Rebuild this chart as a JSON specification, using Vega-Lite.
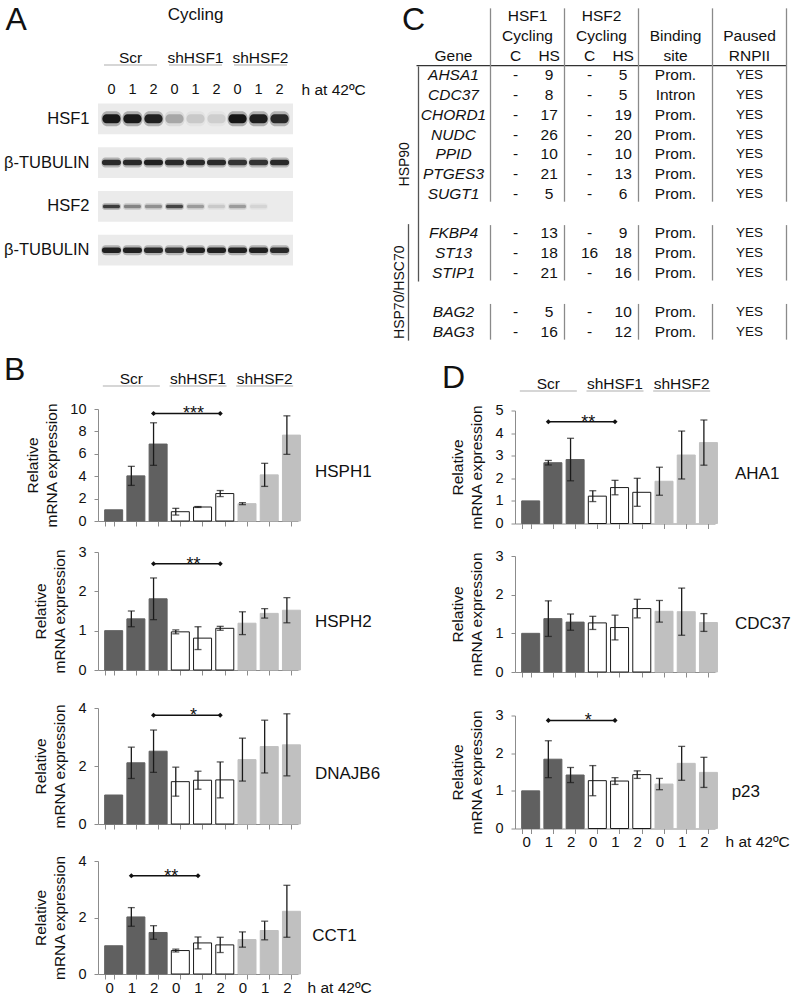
{
  "$schema": "https://vega.github.io/schema/vega-lite/v6.json",
  "background": "white",
  "padding": {"left": 3, "top": 3.5, "right": 2, "bottom": 2},
  "spacing": 12.5,
  "datasets": {
    "groups": [{"cond": "Scr"}, {"cond": "shHSF1"}, {"cond": "shHSF2"}],
    "panelTitle": [{"text": "Cycling"}],
    "blotNames": [{"blot": "HSF1"}, {"blot": "β-TUBULIN a"}, {"blot": "HSF2"}, {"blot": "β-TUBULIN b"}],
    "blot": [
      {"blot": "HSF1", "lane": "Scr 0", "signal": 0.95}, {"blot": "HSF1", "lane": "Scr 1", "signal": 0.95}, {"blot": "HSF1", "lane": "Scr 2", "signal": 0.9},
      {"blot": "HSF1", "lane": "shHSF1 0", "signal": 0.25}, {"blot": "HSF1", "lane": "shHSF1 1", "signal": 0.12}, {"blot": "HSF1", "lane": "shHSF1 2", "signal": 0.1},
      {"blot": "HSF1", "lane": "shHSF2 0", "signal": 0.97}, {"blot": "HSF1", "lane": "shHSF2 1", "signal": 0.92}, {"blot": "HSF1", "lane": "shHSF2 2", "signal": 0.85},
      {"blot": "β-TUBULIN a", "lane": "Scr 0", "signal": 0.85}, {"blot": "β-TUBULIN a", "lane": "Scr 1", "signal": 0.85}, {"blot": "β-TUBULIN a", "lane": "Scr 2", "signal": 0.9},
      {"blot": "β-TUBULIN a", "lane": "shHSF1 0", "signal": 0.85}, {"blot": "β-TUBULIN a", "lane": "shHSF1 1", "signal": 0.85}, {"blot": "β-TUBULIN a", "lane": "shHSF1 2", "signal": 0.85},
      {"blot": "β-TUBULIN a", "lane": "shHSF2 0", "signal": 0.8}, {"blot": "β-TUBULIN a", "lane": "shHSF2 1", "signal": 0.8}, {"blot": "β-TUBULIN a", "lane": "shHSF2 2", "signal": 0.85},
      {"blot": "HSF2", "lane": "Scr 0", "signal": 0.75}, {"blot": "HSF2", "lane": "Scr 1", "signal": 0.4}, {"blot": "HSF2", "lane": "Scr 2", "signal": 0.35},
      {"blot": "HSF2", "lane": "shHSF1 0", "signal": 0.7}, {"blot": "HSF2", "lane": "shHSF1 1", "signal": 0.3}, {"blot": "HSF2", "lane": "shHSF1 2", "signal": 0.12},
      {"blot": "HSF2", "lane": "shHSF2 0", "signal": 0.3}, {"blot": "HSF2", "lane": "shHSF2 1", "signal": 0.08}, {"blot": "HSF2", "lane": "shHSF2 2", "signal": 0.0},
      {"blot": "β-TUBULIN b", "lane": "Scr 0", "signal": 0.9}, {"blot": "β-TUBULIN b", "lane": "Scr 1", "signal": 0.9}, {"blot": "β-TUBULIN b", "lane": "Scr 2", "signal": 0.85},
      {"blot": "β-TUBULIN b", "lane": "shHSF1 0", "signal": 0.8}, {"blot": "β-TUBULIN b", "lane": "shHSF1 1", "signal": 0.9}, {"blot": "β-TUBULIN b", "lane": "shHSF1 2", "signal": 0.9},
      {"blot": "β-TUBULIN b", "lane": "shHSF2 0", "signal": 0.9}, {"blot": "β-TUBULIN b", "lane": "shHSF2 1", "signal": 0.9}, {"blot": "β-TUBULIN b", "lane": "shHSF2 2", "signal": 0.85}
    ],
    "expr": [
      {"panel": "HSPH1", "cond": "Scr", "lane": "Scr 0", "value": 1.0, "err": 0},
      {"panel": "HSPH1", "cond": "Scr", "lane": "Scr 1", "value": 4.03, "err": 0.85},
      {"panel": "HSPH1", "cond": "Scr", "lane": "Scr 2", "value": 6.87, "err": 1.9},
      {"panel": "HSPH1", "cond": "shHSF1", "lane": "shHSF1 0", "value": 0.83, "err": 0.3},
      {"panel": "HSPH1", "cond": "shHSF1", "lane": "shHSF1 1", "value": 1.25, "err": 0.04},
      {"panel": "HSPH1", "cond": "shHSF1", "lane": "shHSF1 2", "value": 2.45, "err": 0.27},
      {"panel": "HSPH1", "cond": "shHSF2", "lane": "shHSF2 0", "value": 1.55, "err": 0.09},
      {"panel": "HSPH1", "cond": "shHSF2", "lane": "shHSF2 1", "value": 4.12, "err": 1.03},
      {"panel": "HSPH1", "cond": "shHSF2", "lane": "shHSF2 2", "value": 7.67, "err": 1.72},
      {"panel": "HSPH2", "cond": "Scr", "lane": "Scr 0", "value": 1.0, "err": 0},
      {"panel": "HSPH2", "cond": "Scr", "lane": "Scr 1", "value": 1.3, "err": 0.2},
      {"panel": "HSPH2", "cond": "Scr", "lane": "Scr 2", "value": 1.81, "err": 0.53},
      {"panel": "HSPH2", "cond": "shHSF1", "lane": "shHSF1 0", "value": 0.97, "err": 0.05},
      {"panel": "HSPH2", "cond": "shHSF1", "lane": "shHSF1 1", "value": 0.81, "err": 0.29},
      {"panel": "HSPH2", "cond": "shHSF1", "lane": "shHSF1 2", "value": 1.06, "err": 0.05},
      {"panel": "HSPH2", "cond": "shHSF2", "lane": "shHSF2 0", "value": 1.19, "err": 0.29},
      {"panel": "HSPH2", "cond": "shHSF2", "lane": "shHSF2 1", "value": 1.44, "err": 0.12},
      {"panel": "HSPH2", "cond": "shHSF2", "lane": "shHSF2 2", "value": 1.52, "err": 0.32},
      {"panel": "DNAJB6", "cond": "Scr", "lane": "Scr 0", "value": 1.0, "err": 0},
      {"panel": "DNAJB6", "cond": "Scr", "lane": "Scr 1", "value": 2.11, "err": 0.54},
      {"panel": "DNAJB6", "cond": "Scr", "lane": "Scr 2", "value": 2.51, "err": 0.73},
      {"panel": "DNAJB6", "cond": "shHSF1", "lane": "shHSF1 0", "value": 1.46, "err": 0.5},
      {"panel": "DNAJB6", "cond": "shHSF1", "lane": "shHSF1 1", "value": 1.51, "err": 0.31},
      {"panel": "DNAJB6", "cond": "shHSF1", "lane": "shHSF1 2", "value": 1.52, "err": 0.62},
      {"panel": "DNAJB6", "cond": "shHSF2", "lane": "shHSF2 0", "value": 2.22, "err": 0.74},
      {"panel": "DNAJB6", "cond": "shHSF2", "lane": "shHSF2 1", "value": 2.67, "err": 0.91},
      {"panel": "DNAJB6", "cond": "shHSF2", "lane": "shHSF2 2", "value": 2.73, "err": 1.07},
      {"panel": "CCT1", "cond": "Scr", "lane": "Scr 0", "value": 1.0, "err": 0},
      {"panel": "CCT1", "cond": "Scr", "lane": "Scr 1", "value": 2.02, "err": 0.33},
      {"panel": "CCT1", "cond": "Scr", "lane": "Scr 2", "value": 1.47, "err": 0.24},
      {"panel": "CCT1", "cond": "shHSF1", "lane": "shHSF1 0", "value": 0.83, "err": 0.05},
      {"panel": "CCT1", "cond": "shHSF1", "lane": "shHSF1 1", "value": 1.1, "err": 0.21},
      {"panel": "CCT1", "cond": "shHSF1", "lane": "shHSF1 2", "value": 1.03, "err": 0.27},
      {"panel": "CCT1", "cond": "shHSF2", "lane": "shHSF2 0", "value": 1.22, "err": 0.27},
      {"panel": "CCT1", "cond": "shHSF2", "lane": "shHSF2 1", "value": 1.54, "err": 0.33},
      {"panel": "CCT1", "cond": "shHSF2", "lane": "shHSF2 2", "value": 2.22, "err": 0.92},
      {"panel": "AHA1", "cond": "Scr", "lane": "Scr 0", "value": 1.0, "err": 0},
      {"panel": "AHA1", "cond": "Scr", "lane": "Scr 1", "value": 2.69, "err": 0.1},
      {"panel": "AHA1", "cond": "Scr", "lane": "Scr 2", "value": 2.83, "err": 0.94},
      {"panel": "AHA1", "cond": "shHSF1", "lane": "shHSF1 0", "value": 1.21, "err": 0.24},
      {"panel": "AHA1", "cond": "shHSF1", "lane": "shHSF1 1", "value": 1.59, "err": 0.32},
      {"panel": "AHA1", "cond": "shHSF1", "lane": "shHSF1 2", "value": 1.38, "err": 0.62},
      {"panel": "AHA1", "cond": "shHSF2", "lane": "shHSF2 0", "value": 1.87, "err": 0.62},
      {"panel": "AHA1", "cond": "shHSF2", "lane": "shHSF2 1", "value": 3.03, "err": 1.06},
      {"panel": "AHA1", "cond": "shHSF2", "lane": "shHSF2 2", "value": 3.58, "err": 1.0},
      {"panel": "CDC37", "cond": "Scr", "lane": "Scr 0", "value": 1.0, "err": 0},
      {"panel": "CDC37", "cond": "Scr", "lane": "Scr 1", "value": 1.38, "err": 0.46},
      {"panel": "CDC37", "cond": "Scr", "lane": "Scr 2", "value": 1.29, "err": 0.21},
      {"panel": "CDC37", "cond": "shHSF1", "lane": "shHSF1 0", "value": 1.27, "err": 0.17},
      {"panel": "CDC37", "cond": "shHSF1", "lane": "shHSF1 1", "value": 1.15, "err": 0.32},
      {"panel": "CDC37", "cond": "shHSF1", "lane": "shHSF1 2", "value": 1.64, "err": 0.24},
      {"panel": "CDC37", "cond": "shHSF2", "lane": "shHSF2 0", "value": 1.57, "err": 0.28},
      {"panel": "CDC37", "cond": "shHSF2", "lane": "shHSF2 1", "value": 1.56, "err": 0.61},
      {"panel": "CDC37", "cond": "shHSF2", "lane": "shHSF2 2", "value": 1.28, "err": 0.23},
      {"panel": "p23", "cond": "Scr", "lane": "Scr 0", "value": 1.0, "err": 0},
      {"panel": "p23", "cond": "Scr", "lane": "Scr 1", "value": 1.84, "err": 0.49},
      {"panel": "p23", "cond": "Scr", "lane": "Scr 2", "value": 1.42, "err": 0.2},
      {"panel": "p23", "cond": "shHSF1", "lane": "shHSF1 0", "value": 1.27, "err": 0.4},
      {"panel": "p23", "cond": "shHSF1", "lane": "shHSF1 1", "value": 1.26, "err": 0.09},
      {"panel": "p23", "cond": "shHSF1", "lane": "shHSF1 2", "value": 1.43, "err": 0.1},
      {"panel": "p23", "cond": "shHSF2", "lane": "shHSF2 0", "value": 1.18, "err": 0.15},
      {"panel": "p23", "cond": "shHSF2", "lane": "shHSF2 1", "value": 1.73, "err": 0.45},
      {"panel": "p23", "cond": "shHSF2", "lane": "shHSF2 2", "value": 1.49, "err": 0.4}
    ],
    "sig": [
      {"panel": "HSPH1", "from": "Scr 2", "to": "shHSF1 2", "mid": "shHSF1 1", "level": 9.6, "stars": "***"},
      {"panel": "HSPH2", "from": "Scr 2", "to": "shHSF1 2", "mid": "shHSF1 1", "level": 2.7, "stars": "**"},
      {"panel": "DNAJB6", "from": "Scr 2", "to": "shHSF1 2", "mid": "shHSF1 1", "level": 3.75, "stars": "*"},
      {"panel": "CCT1", "from": "Scr 1", "to": "shHSF1 1", "mid": "shHSF1 0", "level": 3.48, "stars": "**"},
      {"panel": "AHA1", "from": "Scr 1", "to": "shHSF1 1", "mid": "shHSF1 0", "level": 4.5, "stars": "**"},
      {"panel": "p23", "from": "Scr 1", "to": "shHSF1 1", "mid": "shHSF1 0", "level": 2.87, "stars": "*"}
    ],
    "genes": [
      {"gene": "AHSA1", "hsf1C": "-", "hsf1HS": 9, "hsf2C": "-", "hsf2HS": 5, "site": "Prom.", "paused": "YES"},
      {"gene": "CDC37", "hsf1C": "-", "hsf1HS": 8, "hsf2C": "-", "hsf2HS": 5, "site": "Intron", "paused": "YES"},
      {"gene": "CHORD1", "hsf1C": "-", "hsf1HS": 17, "hsf2C": "-", "hsf2HS": 19, "site": "Prom.", "paused": "YES"},
      {"gene": "NUDC", "hsf1C": "-", "hsf1HS": 26, "hsf2C": "-", "hsf2HS": 20, "site": "Prom.", "paused": "YES"},
      {"gene": "PPID", "hsf1C": "-", "hsf1HS": 10, "hsf2C": "-", "hsf2HS": 10, "site": "Prom.", "paused": "YES"},
      {"gene": "PTGES3", "hsf1C": "-", "hsf1HS": 21, "hsf2C": "-", "hsf2HS": 13, "site": "Prom.", "paused": "YES"},
      {"gene": "SUGT1", "hsf1C": "-", "hsf1HS": 5, "hsf2C": "-", "hsf2HS": 6, "site": "Prom.", "paused": "YES"},
      {"gene": "FKBP4", "hsf1C": "-", "hsf1HS": 13, "hsf2C": "-", "hsf2HS": 9, "site": "Prom.", "paused": "YES"},
      {"gene": "ST13", "hsf1C": "-", "hsf1HS": 18, "hsf2C": 16, "hsf2HS": 18, "site": "Prom.", "paused": "YES"},
      {"gene": "STIP1", "hsf1C": "-", "hsf1HS": 21, "hsf2C": "-", "hsf2HS": 16, "site": "Prom.", "paused": "YES"},
      {"gene": "BAG2", "hsf1C": "-", "hsf1HS": 5, "hsf2C": "-", "hsf2HS": 10, "site": "Prom.", "paused": "YES"},
      {"gene": "BAG3", "hsf1C": "-", "hsf1HS": 16, "hsf2C": "-", "hsf2HS": 12, "site": "Prom.", "paused": "YES"}
    ],
    "countCols": [
      {"key": "hsf1C", "col": "HSF1", "sub": "C"}, {"key": "hsf1HS", "col": "HSF1", "sub": "HS"},
      {"key": "hsf2C", "col": "HSF2", "sub": "C"}, {"key": "hsf2HS", "col": "HSF2", "sub": "HS"}
    ],
    "tableHead": [
      {"row": "h1", "col": "HSF1", "text": "HSF1"}, {"row": "h2", "col": "HSF1", "text": "Cycling"},
      {"row": "h1", "col": "HSF2", "text": "HSF2"}, {"row": "h2", "col": "HSF2", "text": "Cycling"},
      {"row": "h2", "col": "Binding", "text": "Binding"}, {"row": "h3", "col": "Binding", "text": "site"},
      {"row": "h2", "col": "Paused", "text": "Paused"}, {"row": "h3", "col": "Paused", "text": "RNPII"},
      {"row": "h3", "col": "Gene", "text": "Gene"}
    ],
    "tableSub": [
      {"row": "h3", "col": "HSF1", "sub": "C"}, {"row": "h3", "col": "HSF1", "sub": "HS"},
      {"row": "h3", "col": "HSF2", "sub": "C"}, {"row": "h3", "col": "HSF2", "sub": "HS"}
    ],
    "seps": [
      {"col": "HSF1", "side": "start", "first": "h1", "last": "SUGT1"}, {"col": "HSF1", "side": "start", "first": "FKBP4", "last": "STIP1"}, {"col": "HSF1", "side": "start", "first": "BAG2", "last": "BAG3"},
      {"col": "HSF2", "side": "start", "first": "h1", "last": "SUGT1"}, {"col": "HSF2", "side": "start", "first": "FKBP4", "last": "STIP1"}, {"col": "HSF2", "side": "start", "first": "BAG2", "last": "BAG3"},
      {"col": "Binding", "side": "start", "first": "h1", "last": "SUGT1"}, {"col": "Binding", "side": "start", "first": "FKBP4", "last": "STIP1"}, {"col": "Binding", "side": "start", "first": "BAG2", "last": "BAG3"},
      {"col": "Paused", "side": "start", "first": "h1", "last": "SUGT1"}, {"col": "Paused", "side": "start", "first": "FKBP4", "last": "STIP1"}, {"col": "Paused", "side": "start", "first": "BAG2", "last": "BAG3"},
      {"col": "Paused", "side": "end", "first": "h1", "last": "SUGT1"}, {"col": "Paused", "side": "end", "first": "FKBP4", "last": "STIP1"}, {"col": "Paused", "side": "end", "first": "BAG2", "last": "BAG3"}
    ],
    "families": [
      {"family": "HSP90", "first": "AHSA1", "last": "STIP1", "mid": "PPID"},
      {"family": "HSP70/HSC70", "first": "FKBP4", "last": "BAG3", "mid": "gap2"}
    ],
    "headerRule": [{"below": "h3", "above": "AHSA1"}]
  },
  "vconcat": [
    {
      "spacing": 26.5,
      "hconcat": [
        {
          "title": {"text": "A", "orient": "left", "angle": 0, "anchor": "end", "frame": "group", "align": "left", "baseline": "top", "fontSize": 32, "offset": -23.3, "dy": -1.5},
          "spacing": 14,
          "vconcat": [
            {
              "width": 195, "height": 60.5,
              "layer": [
                {"data": {"name": "panelTitle"}, "mark": {"type": "text", "fontSize": 17, "baseline": "middle", "yOffset": -22.25},
                 "encoding": {"text": {"field": "text"}}},
                {"data": {"name": "groups"}, "mark": {"type": "text", "fontSize": 15.5, "baseline": "alphabetic", "yOffset": 28.25, "dy": -2.5},
                 "encoding": {"x": {"field": "cond", "type": "nominal", "scale": {"domain": ["Scr", "shHSF1", "shHSF2"], "paddingInner": 0, "paddingOuter": 0}, "axis": null}, "text": {"field": "cond"}}},
                {"data": {"name": "groups"}, "mark": {"type": "tick", "orient": "horizontal", "size": 53, "thickness": 1.2, "color": "#8c8c8c", "yOffset": 28.25},
                 "encoding": {"x": {"field": "cond", "type": "nominal", "scale": {"domain": ["Scr", "shHSF1", "shHSF2"], "paddingInner": 0, "paddingOuter": 0}, "axis": null}}}
              ]
            },
            {
              "width": 195, "height": 162,
              "layer": [
                {"data": {"name": "blotNames"}, "mark": {"type": "rect", "fill": "#ebebeb"},
                 "encoding": {"y": {"field": "blot", "type": "nominal", "scale": {"domain": ["HSF1", "β-TUBULIN a", "HSF2", "β-TUBULIN b"], "paddingInner": 0.3, "paddingOuter": 0},
                   "axis": {"title": null, "ticks": false, "domain": false, "labelFontSize": 16.5, "labelPadding": 9, "labelExpr": "datum.value == 'HSF1' || datum.value == 'HSF2' ? datum.value : 'β-TUBULIN'"}}}},
                {"data": {"name": "blot"}, "transform": [{"filter": "datum.blot == 'HSF1'"}],
                 "mark": {"type": "tick", "orient": "horizontal", "size": 20, "thickness": 15, "color": "#111", "fillOpacity": 0.3, "cornerRadius": 6},
                 "encoding": {"x": {"field": "lane", "type": "nominal", "scale": {"type": "band", "domain": ["Scr 0", "Scr 1", "Scr 2", "shHSF1 0", "shHSF1 1", "shHSF1 2", "shHSF2 0", "shHSF2 1", "shHSF2 2"], "paddingInner": 0.12, "paddingOuter": 0.2},
                   "axis": {"orient": "top", "title": "h at 42ºC", "labelExpr": "split(datum.value, ' ')[1]", "labelAngle": 0, "ticks": false, "tickSize": 0, "domain": false, "labelFontSize": 14.5, "labelPadding": 7, "titleX": 203, "titleY": -14, "titleAlign": "left", "titleBaseline": "middle", "titleAngle": 0, "titleFontSize": 15.5}},
                   "y": {"field": "blot", "type": "nominal"}, "opacity": {"field": "signal", "type": "quantitative", "scale": {"domain": [0, 1], "range": [0, 1]}, "legend": null}}},
                {"data": {"name": "blot"}, "transform": [{"filter": "datum.blot == 'HSF1'"}],
                 "mark": {"type": "tick", "orient": "horizontal", "size": 18, "thickness": 9, "color": "#111", "cornerRadius": 4},
                 "encoding": {"x": {"field": "lane", "type": "nominal"}, "y": {"field": "blot", "type": "nominal"}, "opacity": {"field": "signal", "type": "quantitative", "legend": null}}},
                {"data": {"name": "blot"}, "transform": [{"filter": "datum.blot == 'β-TUBULIN a' || datum.blot == 'β-TUBULIN b'"}],
                 "mark": {"type": "tick", "orient": "horizontal", "size": 20, "thickness": 10, "color": "#111", "fillOpacity": 0.3, "cornerRadius": 4},
                 "encoding": {"x": {"field": "lane", "type": "nominal"}, "y": {"field": "blot", "type": "nominal"}, "opacity": {"field": "signal", "type": "quantitative", "legend": null}}},
                {"data": {"name": "blot"}, "transform": [{"filter": "datum.blot == 'β-TUBULIN a' || datum.blot == 'β-TUBULIN b'"}],
                 "mark": {"type": "tick", "orient": "horizontal", "size": 19, "thickness": 5.5, "color": "#111", "cornerRadius": 2.5},
                 "encoding": {"x": {"field": "lane", "type": "nominal"}, "y": {"field": "blot", "type": "nominal"}, "opacity": {"field": "signal", "type": "quantitative", "legend": null}}},
                {"data": {"name": "blot"}, "transform": [{"filter": "datum.blot == 'HSF2'"}],
                 "mark": {"type": "tick", "orient": "horizontal", "size": 19, "thickness": 7, "color": "#111", "fillOpacity": 0.3, "cornerRadius": 3},
                 "encoding": {"x": {"field": "lane", "type": "nominal"}, "y": {"field": "blot", "type": "nominal"}, "opacity": {"field": "signal", "type": "quantitative", "legend": null}}},
                {"data": {"name": "blot"}, "transform": [{"filter": "datum.blot == 'HSF2'"}],
                 "mark": {"type": "tick", "orient": "horizontal", "size": 17, "thickness": 3.5, "color": "#111", "cornerRadius": 1.5},
                 "encoding": {"x": {"field": "lane", "type": "nominal"}, "y": {"field": "blot", "type": "nominal"}, "opacity": {"field": "signal", "type": "quantitative", "legend": null}}}
              ]
            }
          ]
        },
        {
          "width": 370, "height": 335,
          "title": {"text": "C", "orient": "left", "angle": 0, "anchor": "end", "frame": "group", "align": "left", "baseline": "top", "fontSize": 32, "offset": -32.5, "dy": -1.5},
          "layer": [
            {"data": {"name": "tableHead"}, "mark": {"type": "text", "fontSize": 15.5},
             "encoding": {"x": {"field": "col", "type": "nominal", "scale": {"domain": ["Gene", "HSF1", "HSF2", "Binding", "Paused"], "paddingInner": 0, "paddingOuter": 0}, "axis": null},
               "y": {"field": "row", "type": "nominal", "scale": {"domain": ["h1", "h2", "h3", "AHSA1", "CDC37", "CHORD1", "NUDC", "PPID", "PTGES3", "SUGT1", "gap1", "FKBP4", "ST13", "STIP1", "gap2", "BAG2", "BAG3"], "paddingInner": 0, "paddingOuter": 0}, "axis": null},
               "text": {"field": "text"}}},
            {"data": {"name": "tableSub"}, "mark": {"type": "text", "fontSize": 15.5},
             "encoding": {"x": {"field": "col", "type": "nominal", "axis": null}, "xOffset": {"field": "sub", "type": "nominal", "scale": {"type": "point", "domain": ["C", "HS"], "padding": 0.6, "align": 0.62}},
               "y": {"field": "row", "type": "nominal", "axis": null}, "text": {"field": "sub"}}},
            {"data": {"name": "genes"}, "mark": {"type": "text", "fontSize": 15.5, "fontStyle": "italic"},
             "encoding": {"x": {"datum": "Gene", "type": "nominal", "axis": null}, "y": {"field": "gene", "type": "nominal", "axis": null}, "text": {"field": "gene"}}},
            {"data": {"name": "genes"},
             "transform": [{"fold": ["hsf1C", "hsf1HS", "hsf2C", "hsf2HS"], "as": ["key", "n"]}, {"lookup": "key", "from": {"data": {"name": "countCols"}, "key": "key", "fields": ["col", "sub"]}}],
             "mark": {"type": "text", "fontSize": 15.5},
             "encoding": {"x": {"field": "col", "type": "nominal", "axis": null}, "xOffset": {"field": "sub", "type": "nominal", "scale": {"type": "point", "domain": ["C", "HS"], "padding": 0.6, "align": 0.62}}, "y": {"field": "gene", "type": "nominal", "axis": null}, "text": {"field": "n", "type": "nominal"}}},
            {"data": {"name": "genes"}, "mark": {"type": "text", "fontSize": 15.5},
             "encoding": {"x": {"datum": "Binding", "type": "nominal", "axis": null}, "y": {"field": "gene", "type": "nominal", "axis": null}, "text": {"field": "site"}}},
            {"data": {"name": "genes"}, "mark": {"type": "text", "fontSize": 13.5},
             "encoding": {"x": {"datum": "Paused", "type": "nominal", "axis": null}, "y": {"field": "gene", "type": "nominal", "axis": null}, "text": {"field": "paused"}}},
            {"data": {"name": "headerRule"}, "mark": {"type": "rule", "color": "#333", "strokeWidth": 1.2, "yOffset": -9.85},
             "encoding": {"y": {"field": "above", "type": "nominal", "axis": null}}},
            {"data": {"name": "seps"}, "transform": [{"filter": "datum.side == 'start'"}],
             "mark": {"type": "rule", "color": "#8a8a8a", "strokeWidth": 1.3, "yOffset": -8, "y2Offset": 8},
             "encoding": {"x": {"field": "col", "type": "nominal", "bandPosition": 0, "axis": null}, "y": {"field": "first", "type": "nominal", "axis": null}, "y2": {"field": "last"}}},
            {"data": {"name": "seps"}, "transform": [{"filter": "datum.side == 'end'"}],
             "mark": {"type": "rule", "color": "#8a8a8a", "strokeWidth": 1.3, "yOffset": -8, "y2Offset": 8},
             "encoding": {"x": {"field": "col", "type": "nominal", "bandPosition": 1, "axis": null}, "y": {"field": "first", "type": "nominal", "axis": null}, "y2": {"field": "last"}}},
            {"data": {"name": "families"}, "transform": [{"filter": "datum.family == 'HSP90'"}],
             "mark": {"type": "rule", "color": "#555", "strokeWidth": 1.3, "xOffset": 2, "yOffset": -9, "y2Offset": 9},
             "encoding": {"x": {"datum": "Gene", "type": "nominal", "bandPosition": 0, "axis": null}, "y": {"field": "first", "type": "nominal", "axis": null}, "y2": {"field": "last"}}},
            {"data": {"name": "families"}, "transform": [{"filter": "datum.family == 'HSP90'"}],
             "mark": {"type": "text", "fontSize": 14, "angle": 270, "xOffset": -12, "yOffset": 10},
             "encoding": {"x": {"datum": "Gene", "type": "nominal", "bandPosition": 0, "axis": null}, "y": {"field": "mid", "type": "nominal", "axis": null}, "text": {"field": "family"}}},
            {"data": {"name": "families"}, "transform": [{"filter": "datum.family != 'HSP90'"}],
             "mark": {"type": "rule", "color": "#555", "strokeWidth": 1.3, "xOffset": -8, "yOffset": -9, "y2Offset": 9},
             "encoding": {"x": {"datum": "Gene", "type": "nominal", "bandPosition": 0, "axis": null}, "y": {"field": "first", "type": "nominal", "axis": null}, "y2": {"field": "last"}}},
            {"data": {"name": "families"}, "transform": [{"filter": "datum.family != 'HSP90'"}],
             "mark": {"type": "text", "fontSize": 14, "angle": 270, "xOffset": -17},
             "encoding": {"x": {"datum": "Gene", "type": "nominal", "bandPosition": 0, "axis": null}, "y": {"field": "mid", "type": "nominal", "axis": null}, "text": {"field": "family"}}}
          ]
        }
      ]
    },
    {
      "spacing": 60,
      "hconcat": [
        {
          "spacing": 14,
          "vconcat": [
            {
              "width": 200, "height": 31,
              "data": {"name": "groups"},
              "title": {"text": "B", "orient": "left", "angle": 0, "anchor": "end", "frame": "group", "align": "left", "baseline": "top", "fontSize": 32, "offset": 72.7},
              "layer": [
                {"mark": {"type": "text", "fontSize": 15.5, "baseline": "alphabetic", "yOffset": 15.5, "dy": -2.5},
                 "encoding": {"x": {"field": "cond", "type": "nominal", "scale": {"domain": ["Scr", "shHSF1", "shHSF2"], "paddingInner": 0, "paddingOuter": 0}, "axis": null}, "text": {"field": "cond"}}},
                {"mark": {"type": "tick", "orient": "horizontal", "size": 57, "thickness": 1.2, "color": "#8c8c8c", "yOffset": 15.5},
                 "encoding": {"x": {"field": "cond", "type": "nominal", "scale": {"domain": ["Scr", "shHSF1", "shHSF2"], "paddingInner": 0, "paddingOuter": 0}, "axis": null}}}
              ]
            },
            {
              "width": 200, "height": 112,
              "title": {"text": "HSPH1", "orient": "right", "angle": 0, "align": "right", "baseline": "middle", "anchor": "middle", "frame": "group", "offset": 14, "dy": 6.6, "fontSize": 17},
              "layer": [
                {"data": {"name": "expr"}, "transform": [{"filter": "datum.panel == 'HSPH1'"}], "mark": {"type": "bar", "strokeWidth": 1},
                 "encoding": {
                   "x": {"field": "lane", "type": "nominal", "scale": {"type": "band", "domain": ["Scr 0", "Scr 1", "Scr 2", "shHSF1 0", "shHSF1 1", "shHSF1 2", "shHSF2 0", "shHSF2 1", "shHSF2 2"], "paddingInner": 0.6, "paddingOuter": 0.3}, "axis": {"title": null, "labels": false, "tickBand": "extent", "tickSize": 5, "minExtent": 9}},
                   "y": {"field": "value", "type": "quantitative", "scale": {"domain": [0, 10]}, "title": ["Relative", "mRNA expression"], "axis": {"values": [0, 2, 4, 6, 8, 10], "format": "d", "tickCount": 12, "titlePadding": 10}},
                   "fill": {"field": "cond", "type": "nominal", "scale": {"domain": ["Scr", "shHSF1", "shHSF2"], "range": ["#606060", "#ffffff", "#c0c0c0"]}, "legend": null},
                   "stroke": {"field": "cond", "type": "nominal", "scale": {"domain": ["Scr", "shHSF1", "shHSF2"], "range": ["#606060", "#1a1a1a", "#c0c0c0"]}, "legend": null}}},
                {"data": {"name": "expr"}, "transform": [{"filter": "datum.panel == 'HSPH1' && datum.err > 0"}],
                 "mark": {"type": "errorbar", "color": "#1a1a1a", "thickness": 1.3, "ticks": {"size": 7, "color": "#1a1a1a"}, "rule": {"color": "#1a1a1a"}},
                 "encoding": {"x": {"field": "lane", "type": "nominal", "title": null, "scale": {"type": "band", "domain": ["Scr 0", "Scr 1", "Scr 2", "shHSF1 0", "shHSF1 1", "shHSF1 2", "shHSF2 0", "shHSF2 1", "shHSF2 2"], "paddingInner": 0.6, "paddingOuter": 0.3}}, "y": {"field": "value", "type": "quantitative", "title": ["Relative", "mRNA expression"]}, "yError": {"field": "err"}}},
                {"data": {"name": "sig"}, "transform": [{"filter": "datum.panel == 'HSPH1'"}],
                 "layer": [
                   {"mark": {"type": "rule", "color": "#111", "strokeWidth": 1.5}, "encoding": {"x": {"field": "from", "type": "nominal", "title": null, "scale": {"type": "band", "domain": ["Scr 0", "Scr 1", "Scr 2", "shHSF1 0", "shHSF1 1", "shHSF1 2", "shHSF2 0", "shHSF2 1", "shHSF2 2"], "paddingInner": 0.6, "paddingOuter": 0.3}}, "x2": {"field": "to"}, "y": {"field": "level", "type": "quantitative", "title": ["Relative", "mRNA expression"]}}},
                   {"mark": {"type": "point", "shape": "diamond", "filled": true, "size": 26, "color": "#111", "opacity": 1}, "encoding": {"x": {"field": "from", "type": "nominal", "title": null, "scale": {"type": "band", "domain": ["Scr 0", "Scr 1", "Scr 2", "shHSF1 0", "shHSF1 1", "shHSF1 2", "shHSF2 0", "shHSF2 1", "shHSF2 2"], "paddingInner": 0.6, "paddingOuter": 0.3}}, "y": {"field": "level", "type": "quantitative", "title": ["Relative", "mRNA expression"]}}},
                   {"mark": {"type": "point", "shape": "diamond", "filled": true, "size": 26, "color": "#111", "opacity": 1}, "encoding": {"x": {"field": "to", "type": "nominal", "title": null, "scale": {"type": "band", "domain": ["Scr 0", "Scr 1", "Scr 2", "shHSF1 0", "shHSF1 1", "shHSF1 2", "shHSF2 0", "shHSF2 1", "shHSF2 2"], "paddingInner": 0.6, "paddingOuter": 0.3}}, "y": {"field": "level", "type": "quantitative", "title": ["Relative", "mRNA expression"]}}},
                   {"mark": {"type": "text", "fontSize": 18, "baseline": "alphabetic", "dy": 6}, "encoding": {"x": {"field": "mid", "type": "nominal", "title": null, "bandPosition": 0, "scale": {"type": "band", "domain": ["Scr 0", "Scr 1", "Scr 2", "shHSF1 0", "shHSF1 1", "shHSF1 2", "shHSF2 0", "shHSF2 1", "shHSF2 2"], "paddingInner": 0.6, "paddingOuter": 0.3}}, "y": {"field": "level", "type": "quantitative", "title": ["Relative", "mRNA expression"]}, "text": {"field": "stars"}}}
                 ]}
              ]
            },
            {
              "width": 200, "height": 118,
              "title": {"text": "HSPH2", "orient": "right", "angle": 0, "align": "right", "baseline": "middle", "anchor": "middle", "frame": "group", "offset": 14, "dy": 11, "fontSize": 17},
              "layer": [
                {"data": {"name": "expr"}, "transform": [{"filter": "datum.panel == 'HSPH2'"}], "mark": {"type": "bar", "strokeWidth": 1},
                 "encoding": {
                   "x": {"field": "lane", "type": "nominal", "scale": {"type": "band", "domain": ["Scr 0", "Scr 1", "Scr 2", "shHSF1 0", "shHSF1 1", "shHSF1 2", "shHSF2 0", "shHSF2 1", "shHSF2 2"], "paddingInner": 0.6, "paddingOuter": 0.3}, "axis": {"title": null, "labels": false, "tickBand": "extent", "tickSize": 5, "minExtent": 15.5}},
                   "y": {"field": "value", "type": "quantitative", "scale": {"domain": [0, 3]}, "title": ["Relative", "mRNA expression"], "axis": {"values": [0, 1, 2, 3], "format": "d", "tickCount": 12, "titlePadding": 10}},
                   "fill": {"field": "cond", "type": "nominal", "scale": {"domain": ["Scr", "shHSF1", "shHSF2"], "range": ["#606060", "#ffffff", "#c0c0c0"]}, "legend": null},
                   "stroke": {"field": "cond", "type": "nominal", "scale": {"domain": ["Scr", "shHSF1", "shHSF2"], "range": ["#606060", "#1a1a1a", "#c0c0c0"]}, "legend": null}}},
                {"data": {"name": "expr"}, "transform": [{"filter": "datum.panel == 'HSPH2' && datum.err > 0"}],
                 "mark": {"type": "errorbar", "color": "#1a1a1a", "thickness": 1.3, "ticks": {"size": 7, "color": "#1a1a1a"}, "rule": {"color": "#1a1a1a"}},
                 "encoding": {"x": {"field": "lane", "type": "nominal", "title": null, "scale": {"type": "band", "domain": ["Scr 0", "Scr 1", "Scr 2", "shHSF1 0", "shHSF1 1", "shHSF1 2", "shHSF2 0", "shHSF2 1", "shHSF2 2"], "paddingInner": 0.6, "paddingOuter": 0.3}}, "y": {"field": "value", "type": "quantitative", "title": ["Relative", "mRNA expression"]}, "yError": {"field": "err"}}},
                {"data": {"name": "sig"}, "transform": [{"filter": "datum.panel == 'HSPH2'"}],
                 "layer": [
                   {"mark": {"type": "rule", "color": "#111", "strokeWidth": 1.5}, "encoding": {"x": {"field": "from", "type": "nominal", "title": null, "scale": {"type": "band", "domain": ["Scr 0", "Scr 1", "Scr 2", "shHSF1 0", "shHSF1 1", "shHSF1 2", "shHSF2 0", "shHSF2 1", "shHSF2 2"], "paddingInner": 0.6, "paddingOuter": 0.3}}, "x2": {"field": "to"}, "y": {"field": "level", "type": "quantitative", "title": ["Relative", "mRNA expression"]}}},
                   {"mark": {"type": "point", "shape": "diamond", "filled": true, "size": 26, "color": "#111", "opacity": 1}, "encoding": {"x": {"field": "from", "type": "nominal", "title": null, "scale": {"type": "band", "domain": ["Scr 0", "Scr 1", "Scr 2", "shHSF1 0", "shHSF1 1", "shHSF1 2", "shHSF2 0", "shHSF2 1", "shHSF2 2"], "paddingInner": 0.6, "paddingOuter": 0.3}}, "y": {"field": "level", "type": "quantitative", "title": ["Relative", "mRNA expression"]}}},
                   {"mark": {"type": "point", "shape": "diamond", "filled": true, "size": 26, "color": "#111", "opacity": 1}, "encoding": {"x": {"field": "to", "type": "nominal", "title": null, "scale": {"type": "band", "domain": ["Scr 0", "Scr 1", "Scr 2", "shHSF1 0", "shHSF1 1", "shHSF1 2", "shHSF2 0", "shHSF2 1", "shHSF2 2"], "paddingInner": 0.6, "paddingOuter": 0.3}}, "y": {"field": "level", "type": "quantitative", "title": ["Relative", "mRNA expression"]}}},
                   {"mark": {"type": "text", "fontSize": 18, "baseline": "alphabetic", "dy": 6}, "encoding": {"x": {"field": "mid", "type": "nominal", "title": null, "bandPosition": 0, "scale": {"type": "band", "domain": ["Scr 0", "Scr 1", "Scr 2", "shHSF1 0", "shHSF1 1", "shHSF1 2", "shHSF2 0", "shHSF2 1", "shHSF2 2"], "paddingInner": 0.6, "paddingOuter": 0.3}}, "y": {"field": "level", "type": "quantitative", "title": ["Relative", "mRNA expression"]}, "text": {"field": "stars"}}}
                 ]}
              ]
            },
            {
              "width": 200, "height": 116,
              "title": {"text": "DNAJB6", "orient": "right", "angle": 0, "align": "right", "baseline": "middle", "anchor": "middle", "frame": "group", "offset": 14, "dy": 8, "fontSize": 17},
              "layer": [
                {"data": {"name": "expr"}, "transform": [{"filter": "datum.panel == 'DNAJB6'"}], "mark": {"type": "bar", "strokeWidth": 1},
                 "encoding": {
                   "x": {"field": "lane", "type": "nominal", "scale": {"type": "band", "domain": ["Scr 0", "Scr 1", "Scr 2", "shHSF1 0", "shHSF1 1", "shHSF1 2", "shHSF2 0", "shHSF2 1", "shHSF2 2"], "paddingInner": 0.6, "paddingOuter": 0.3}, "axis": {"title": null, "labels": false, "tickBand": "extent", "tickSize": 5, "minExtent": 14.5}},
                   "y": {"field": "value", "type": "quantitative", "scale": {"domain": [0, 4]}, "title": ["Relative", "mRNA expression"], "axis": {"values": [0, 2, 4], "format": "d", "tickCount": 12, "titlePadding": 10}},
                   "fill": {"field": "cond", "type": "nominal", "scale": {"domain": ["Scr", "shHSF1", "shHSF2"], "range": ["#606060", "#ffffff", "#c0c0c0"]}, "legend": null},
                   "stroke": {"field": "cond", "type": "nominal", "scale": {"domain": ["Scr", "shHSF1", "shHSF2"], "range": ["#606060", "#1a1a1a", "#c0c0c0"]}, "legend": null}}},
                {"data": {"name": "expr"}, "transform": [{"filter": "datum.panel == 'DNAJB6' && datum.err > 0"}],
                 "mark": {"type": "errorbar", "color": "#1a1a1a", "thickness": 1.3, "ticks": {"size": 7, "color": "#1a1a1a"}, "rule": {"color": "#1a1a1a"}},
                 "encoding": {"x": {"field": "lane", "type": "nominal", "title": null, "scale": {"type": "band", "domain": ["Scr 0", "Scr 1", "Scr 2", "shHSF1 0", "shHSF1 1", "shHSF1 2", "shHSF2 0", "shHSF2 1", "shHSF2 2"], "paddingInner": 0.6, "paddingOuter": 0.3}}, "y": {"field": "value", "type": "quantitative", "title": ["Relative", "mRNA expression"]}, "yError": {"field": "err"}}},
                {"data": {"name": "sig"}, "transform": [{"filter": "datum.panel == 'DNAJB6'"}],
                 "layer": [
                   {"mark": {"type": "rule", "color": "#111", "strokeWidth": 1.5}, "encoding": {"x": {"field": "from", "type": "nominal", "title": null, "scale": {"type": "band", "domain": ["Scr 0", "Scr 1", "Scr 2", "shHSF1 0", "shHSF1 1", "shHSF1 2", "shHSF2 0", "shHSF2 1", "shHSF2 2"], "paddingInner": 0.6, "paddingOuter": 0.3}}, "x2": {"field": "to"}, "y": {"field": "level", "type": "quantitative", "title": ["Relative", "mRNA expression"]}}},
                   {"mark": {"type": "point", "shape": "diamond", "filled": true, "size": 26, "color": "#111", "opacity": 1}, "encoding": {"x": {"field": "from", "type": "nominal", "title": null, "scale": {"type": "band", "domain": ["Scr 0", "Scr 1", "Scr 2", "shHSF1 0", "shHSF1 1", "shHSF1 2", "shHSF2 0", "shHSF2 1", "shHSF2 2"], "paddingInner": 0.6, "paddingOuter": 0.3}}, "y": {"field": "level", "type": "quantitative", "title": ["Relative", "mRNA expression"]}}},
                   {"mark": {"type": "point", "shape": "diamond", "filled": true, "size": 26, "color": "#111", "opacity": 1}, "encoding": {"x": {"field": "to", "type": "nominal", "title": null, "scale": {"type": "band", "domain": ["Scr 0", "Scr 1", "Scr 2", "shHSF1 0", "shHSF1 1", "shHSF1 2", "shHSF2 0", "shHSF2 1", "shHSF2 2"], "paddingInner": 0.6, "paddingOuter": 0.3}}, "y": {"field": "level", "type": "quantitative", "title": ["Relative", "mRNA expression"]}}},
                   {"mark": {"type": "text", "fontSize": 18, "baseline": "alphabetic", "dy": 6}, "encoding": {"x": {"field": "mid", "type": "nominal", "title": null, "bandPosition": 0, "scale": {"type": "band", "domain": ["Scr 0", "Scr 1", "Scr 2", "shHSF1 0", "shHSF1 1", "shHSF1 2", "shHSF2 0", "shHSF2 1", "shHSF2 2"], "paddingInner": 0.6, "paddingOuter": 0.3}}, "y": {"field": "level", "type": "quantitative", "title": ["Relative", "mRNA expression"]}, "text": {"field": "stars"}}}
                 ]}
              ]
            },
            {
              "width": 200, "height": 113,
              "title": {"text": "CCT1", "orient": "right", "angle": 0, "align": "right", "baseline": "middle", "anchor": "middle", "frame": "group", "offset": -59, "dy": 18, "fontSize": 17},
              "layer": [
                {"data": {"name": "expr"}, "transform": [{"filter": "datum.panel == 'CCT1'"}], "mark": {"type": "bar", "strokeWidth": 1},
                 "encoding": {
                   "x": {"field": "lane", "type": "nominal", "title": "h at 42ºC", "scale": {"type": "band", "domain": ["Scr 0", "Scr 1", "Scr 2", "shHSF1 0", "shHSF1 1", "shHSF1 2", "shHSF2 0", "shHSF2 1", "shHSF2 2"], "paddingInner": 0.6, "paddingOuter": 0.3},
                     "axis": {"labelExpr": "split(datum.value, ' ')[1]", "labelAngle": 0, "labelFontSize": 15, "labelPadding": 1, "tickBand": "extent", "tickSize": 5, "titleX": 209, "titleY": 13, "titleAlign": "left", "titleBaseline": "middle", "titleAngle": 0, "titleFontSize": 15.5}},
                   "y": {"field": "value", "type": "quantitative", "scale": {"domain": [0, 4]}, "title": ["Relative", "mRNA expression"], "axis": {"values": [0, 2, 4], "format": "d", "tickCount": 12, "titlePadding": 10}},
                   "fill": {"field": "cond", "type": "nominal", "scale": {"domain": ["Scr", "shHSF1", "shHSF2"], "range": ["#606060", "#ffffff", "#c0c0c0"]}, "legend": null},
                   "stroke": {"field": "cond", "type": "nominal", "scale": {"domain": ["Scr", "shHSF1", "shHSF2"], "range": ["#606060", "#1a1a1a", "#c0c0c0"]}, "legend": null}}},
                {"data": {"name": "expr"}, "transform": [{"filter": "datum.panel == 'CCT1' && datum.err > 0"}],
                 "mark": {"type": "errorbar", "color": "#1a1a1a", "thickness": 1.3, "ticks": {"size": 7, "color": "#1a1a1a"}, "rule": {"color": "#1a1a1a"}},
                 "encoding": {"x": {"field": "lane", "type": "nominal", "title": "h at 42ºC", "scale": {"type": "band", "domain": ["Scr 0", "Scr 1", "Scr 2", "shHSF1 0", "shHSF1 1", "shHSF1 2", "shHSF2 0", "shHSF2 1", "shHSF2 2"], "paddingInner": 0.6, "paddingOuter": 0.3}}, "y": {"field": "value", "type": "quantitative", "title": ["Relative", "mRNA expression"]}, "yError": {"field": "err"}}},
                {"data": {"name": "sig"}, "transform": [{"filter": "datum.panel == 'CCT1'"}],
                 "layer": [
                   {"mark": {"type": "rule", "color": "#111", "strokeWidth": 1.5}, "encoding": {"x": {"field": "from", "type": "nominal", "title": "h at 42ºC", "scale": {"type": "band", "domain": ["Scr 0", "Scr 1", "Scr 2", "shHSF1 0", "shHSF1 1", "shHSF1 2", "shHSF2 0", "shHSF2 1", "shHSF2 2"], "paddingInner": 0.6, "paddingOuter": 0.3}}, "x2": {"field": "to"}, "y": {"field": "level", "type": "quantitative", "title": ["Relative", "mRNA expression"]}}},
                   {"mark": {"type": "point", "shape": "diamond", "filled": true, "size": 26, "color": "#111", "opacity": 1}, "encoding": {"x": {"field": "from", "type": "nominal", "title": "h at 42ºC", "scale": {"type": "band", "domain": ["Scr 0", "Scr 1", "Scr 2", "shHSF1 0", "shHSF1 1", "shHSF1 2", "shHSF2 0", "shHSF2 1", "shHSF2 2"], "paddingInner": 0.6, "paddingOuter": 0.3}}, "y": {"field": "level", "type": "quantitative", "title": ["Relative", "mRNA expression"]}}},
                   {"mark": {"type": "point", "shape": "diamond", "filled": true, "size": 26, "color": "#111", "opacity": 1}, "encoding": {"x": {"field": "to", "type": "nominal", "title": "h at 42ºC", "scale": {"type": "band", "domain": ["Scr 0", "Scr 1", "Scr 2", "shHSF1 0", "shHSF1 1", "shHSF1 2", "shHSF2 0", "shHSF2 1", "shHSF2 2"], "paddingInner": 0.6, "paddingOuter": 0.3}}, "y": {"field": "level", "type": "quantitative", "title": ["Relative", "mRNA expression"]}}},
                   {"mark": {"type": "text", "fontSize": 18, "baseline": "alphabetic", "dy": 6}, "encoding": {"x": {"field": "mid", "type": "nominal", "title": "h at 42ºC", "bandPosition": 0, "scale": {"type": "band", "domain": ["Scr 0", "Scr 1", "Scr 2", "shHSF1 0", "shHSF1 1", "shHSF1 2", "shHSF2 0", "shHSF2 1", "shHSF2 2"], "paddingInner": 0.6, "paddingOuter": 0.3}}, "y": {"field": "level", "type": "quantitative", "title": ["Relative", "mRNA expression"]}, "text": {"field": "stars"}}}
                 ]}
              ]
            }
          ]
        },
        {
          "spacing": 8.5,
          "vconcat": [
            {
              "width": 200, "height": 36,
              "data": {"name": "groups"},
              "title": {"text": "D", "orient": "left", "angle": 0, "anchor": "end", "frame": "group", "align": "left", "baseline": "top", "fontSize": 32, "offset": 50, "dy": 8},
              "layer": [
                {"mark": {"type": "text", "fontSize": 15.5, "baseline": "alphabetic", "yOffset": 18, "dy": -2.5},
                 "encoding": {"x": {"field": "cond", "type": "nominal", "scale": {"domain": ["Scr", "shHSF1", "shHSF2"], "paddingInner": 0, "paddingOuter": 0}, "axis": null}, "text": {"field": "cond"}}},
                {"mark": {"type": "tick", "orient": "horizontal", "size": 57, "thickness": 1.2, "color": "#8c8c8c", "yOffset": 18},
                 "encoding": {"x": {"field": "cond", "type": "nominal", "scale": {"domain": ["Scr", "shHSF1", "shHSF2"], "paddingInner": 0, "paddingOuter": 0}, "axis": null}}}
              ]
            },
            {
              "width": 200, "height": 113,
              "title": {"text": "AHA1", "orient": "right", "angle": 0, "align": "right", "baseline": "middle", "anchor": "middle", "frame": "group", "offset": 17, "dy": 6.5, "fontSize": 17},
              "layer": [
                {"data": {"name": "expr"}, "transform": [{"filter": "datum.panel == 'AHA1'"}], "mark": {"type": "bar", "strokeWidth": 1},
                 "encoding": {
                   "x": {"field": "lane", "type": "nominal", "scale": {"type": "band", "domain": ["Scr 0", "Scr 1", "Scr 2", "shHSF1 0", "shHSF1 1", "shHSF1 2", "shHSF2 0", "shHSF2 1", "shHSF2 2"], "paddingInner": 0.6, "paddingOuter": 0.3}, "axis": {"title": null, "labels": false, "tickBand": "extent", "tickSize": 5, "minExtent": 15.6}},
                   "y": {"field": "value", "type": "quantitative", "scale": {"domain": [0, 5]}, "title": ["Relative", "mRNA expression"], "axis": {"values": [0, 1, 2, 3, 4, 5], "format": "d", "tickCount": 12, "titlePadding": 10}},
                   "fill": {"field": "cond", "type": "nominal", "scale": {"domain": ["Scr", "shHSF1", "shHSF2"], "range": ["#606060", "#ffffff", "#c0c0c0"]}, "legend": null},
                   "stroke": {"field": "cond", "type": "nominal", "scale": {"domain": ["Scr", "shHSF1", "shHSF2"], "range": ["#606060", "#1a1a1a", "#c0c0c0"]}, "legend": null}}},
                {"data": {"name": "expr"}, "transform": [{"filter": "datum.panel == 'AHA1' && datum.err > 0"}],
                 "mark": {"type": "errorbar", "color": "#1a1a1a", "thickness": 1.3, "ticks": {"size": 7, "color": "#1a1a1a"}, "rule": {"color": "#1a1a1a"}},
                 "encoding": {"x": {"field": "lane", "type": "nominal", "title": null, "scale": {"type": "band", "domain": ["Scr 0", "Scr 1", "Scr 2", "shHSF1 0", "shHSF1 1", "shHSF1 2", "shHSF2 0", "shHSF2 1", "shHSF2 2"], "paddingInner": 0.6, "paddingOuter": 0.3}}, "y": {"field": "value", "type": "quantitative", "title": ["Relative", "mRNA expression"]}, "yError": {"field": "err"}}},
                {"data": {"name": "sig"}, "transform": [{"filter": "datum.panel == 'AHA1'"}],
                 "layer": [
                   {"mark": {"type": "rule", "color": "#111", "strokeWidth": 1.5}, "encoding": {"x": {"field": "from", "type": "nominal", "title": null, "scale": {"type": "band", "domain": ["Scr 0", "Scr 1", "Scr 2", "shHSF1 0", "shHSF1 1", "shHSF1 2", "shHSF2 0", "shHSF2 1", "shHSF2 2"], "paddingInner": 0.6, "paddingOuter": 0.3}}, "x2": {"field": "to"}, "y": {"field": "level", "type": "quantitative", "title": ["Relative", "mRNA expression"]}}},
                   {"mark": {"type": "point", "shape": "diamond", "filled": true, "size": 26, "color": "#111", "opacity": 1}, "encoding": {"x": {"field": "from", "type": "nominal", "title": null, "scale": {"type": "band", "domain": ["Scr 0", "Scr 1", "Scr 2", "shHSF1 0", "shHSF1 1", "shHSF1 2", "shHSF2 0", "shHSF2 1", "shHSF2 2"], "paddingInner": 0.6, "paddingOuter": 0.3}}, "y": {"field": "level", "type": "quantitative", "title": ["Relative", "mRNA expression"]}}},
                   {"mark": {"type": "point", "shape": "diamond", "filled": true, "size": 26, "color": "#111", "opacity": 1}, "encoding": {"x": {"field": "to", "type": "nominal", "title": null, "scale": {"type": "band", "domain": ["Scr 0", "Scr 1", "Scr 2", "shHSF1 0", "shHSF1 1", "shHSF1 2", "shHSF2 0", "shHSF2 1", "shHSF2 2"], "paddingInner": 0.6, "paddingOuter": 0.3}}, "y": {"field": "level", "type": "quantitative", "title": ["Relative", "mRNA expression"]}}},
                   {"mark": {"type": "text", "fontSize": 18, "baseline": "alphabetic", "dy": 6}, "encoding": {"x": {"field": "mid", "type": "nominal", "title": null, "bandPosition": 0, "scale": {"type": "band", "domain": ["Scr 0", "Scr 1", "Scr 2", "shHSF1 0", "shHSF1 1", "shHSF1 2", "shHSF2 0", "shHSF2 1", "shHSF2 2"], "paddingInner": 0.6, "paddingOuter": 0.3}}, "y": {"field": "level", "type": "quantitative", "title": ["Relative", "mRNA expression"]}, "text": {"field": "stars"}}}
                 ]}
              ]
            },
            {
              "width": 200, "height": 116,
              "title": {"text": "CDC37", "orient": "right", "angle": 0, "align": "right", "baseline": "middle", "anchor": "middle", "frame": "group", "offset": 17, "dy": 10, "fontSize": 17},
              "layer": [
                {"data": {"name": "expr"}, "transform": [{"filter": "datum.panel == 'CDC37'"}], "mark": {"type": "bar", "strokeWidth": 1},
                 "encoding": {
                   "x": {"field": "lane", "type": "nominal", "scale": {"type": "band", "domain": ["Scr 0", "Scr 1", "Scr 2", "shHSF1 0", "shHSF1 1", "shHSF1 2", "shHSF2 0", "shHSF2 1", "shHSF2 2"], "paddingInner": 0.6, "paddingOuter": 0.3}, "axis": {"title": null, "labels": false, "tickBand": "extent", "tickSize": 5, "minExtent": 26.5}},
                   "y": {"field": "value", "type": "quantitative", "scale": {"domain": [0, 3]}, "title": ["Relative", "mRNA expression"], "axis": {"values": [0, 1, 2, 3], "format": "d", "tickCount": 12, "titlePadding": 10}},
                   "fill": {"field": "cond", "type": "nominal", "scale": {"domain": ["Scr", "shHSF1", "shHSF2"], "range": ["#606060", "#ffffff", "#c0c0c0"]}, "legend": null},
                   "stroke": {"field": "cond", "type": "nominal", "scale": {"domain": ["Scr", "shHSF1", "shHSF2"], "range": ["#606060", "#1a1a1a", "#c0c0c0"]}, "legend": null}}},
                {"data": {"name": "expr"}, "transform": [{"filter": "datum.panel == 'CDC37' && datum.err > 0"}],
                 "mark": {"type": "errorbar", "color": "#1a1a1a", "thickness": 1.3, "ticks": {"size": 7, "color": "#1a1a1a"}, "rule": {"color": "#1a1a1a"}},
                 "encoding": {"x": {"field": "lane", "type": "nominal", "title": null, "scale": {"type": "band", "domain": ["Scr 0", "Scr 1", "Scr 2", "shHSF1 0", "shHSF1 1", "shHSF1 2", "shHSF2 0", "shHSF2 1", "shHSF2 2"], "paddingInner": 0.6, "paddingOuter": 0.3}}, "y": {"field": "value", "type": "quantitative", "title": ["Relative", "mRNA expression"]}, "yError": {"field": "err"}}}
              ]
            },
            {
              "width": 200, "height": 113,
              "title": {"text": "p23", "orient": "right", "angle": 0, "align": "right", "baseline": "middle", "anchor": "middle", "frame": "group", "offset": -57.6, "dy": 20, "fontSize": 17},
              "layer": [
                {"data": {"name": "expr"}, "transform": [{"filter": "datum.panel == 'p23'"}], "mark": {"type": "bar", "strokeWidth": 1},
                 "encoding": {
                   "x": {"field": "lane", "type": "nominal", "title": "h at 42ºC", "scale": {"type": "band", "domain": ["Scr 0", "Scr 1", "Scr 2", "shHSF1 0", "shHSF1 1", "shHSF1 2", "shHSF2 0", "shHSF2 1", "shHSF2 2"], "paddingInner": 0.6, "paddingOuter": 0.3},
                     "axis": {"labelExpr": "split(datum.value, ' ')[1]", "labelAngle": 0, "labelFontSize": 15, "labelPadding": 1, "tickBand": "extent", "tickSize": 5, "titleX": 210, "titleY": 13, "titleAlign": "left", "titleBaseline": "middle", "titleAngle": 0, "titleFontSize": 15.5}},
                   "y": {"field": "value", "type": "quantitative", "scale": {"domain": [0, 3]}, "title": ["Relative", "mRNA expression"], "axis": {"values": [0, 1, 2, 3], "format": "d", "tickCount": 12, "titlePadding": 10}},
                   "fill": {"field": "cond", "type": "nominal", "scale": {"domain": ["Scr", "shHSF1", "shHSF2"], "range": ["#606060", "#ffffff", "#c0c0c0"]}, "legend": null},
                   "stroke": {"field": "cond", "type": "nominal", "scale": {"domain": ["Scr", "shHSF1", "shHSF2"], "range": ["#606060", "#1a1a1a", "#c0c0c0"]}, "legend": null}}},
                {"data": {"name": "expr"}, "transform": [{"filter": "datum.panel == 'p23' && datum.err > 0"}],
                 "mark": {"type": "errorbar", "color": "#1a1a1a", "thickness": 1.3, "ticks": {"size": 7, "color": "#1a1a1a"}, "rule": {"color": "#1a1a1a"}},
                 "encoding": {"x": {"field": "lane", "type": "nominal", "title": "h at 42ºC", "scale": {"type": "band", "domain": ["Scr 0", "Scr 1", "Scr 2", "shHSF1 0", "shHSF1 1", "shHSF1 2", "shHSF2 0", "shHSF2 1", "shHSF2 2"], "paddingInner": 0.6, "paddingOuter": 0.3}}, "y": {"field": "value", "type": "quantitative", "title": ["Relative", "mRNA expression"]}, "yError": {"field": "err"}}},
                {"data": {"name": "sig"}, "transform": [{"filter": "datum.panel == 'p23'"}],
                 "layer": [
                   {"mark": {"type": "rule", "color": "#111", "strokeWidth": 1.5}, "encoding": {"x": {"field": "from", "type": "nominal", "title": "h at 42ºC", "scale": {"type": "band", "domain": ["Scr 0", "Scr 1", "Scr 2", "shHSF1 0", "shHSF1 1", "shHSF1 2", "shHSF2 0", "shHSF2 1", "shHSF2 2"], "paddingInner": 0.6, "paddingOuter": 0.3}}, "x2": {"field": "to"}, "y": {"field": "level", "type": "quantitative", "title": ["Relative", "mRNA expression"]}}},
                   {"mark": {"type": "point", "shape": "diamond", "filled": true, "size": 26, "color": "#111", "opacity": 1}, "encoding": {"x": {"field": "from", "type": "nominal", "title": "h at 42ºC", "scale": {"type": "band", "domain": ["Scr 0", "Scr 1", "Scr 2", "shHSF1 0", "shHSF1 1", "shHSF1 2", "shHSF2 0", "shHSF2 1", "shHSF2 2"], "paddingInner": 0.6, "paddingOuter": 0.3}}, "y": {"field": "level", "type": "quantitative", "title": ["Relative", "mRNA expression"]}}},
                   {"mark": {"type": "point", "shape": "diamond", "filled": true, "size": 26, "color": "#111", "opacity": 1}, "encoding": {"x": {"field": "to", "type": "nominal", "title": "h at 42ºC", "scale": {"type": "band", "domain": ["Scr 0", "Scr 1", "Scr 2", "shHSF1 0", "shHSF1 1", "shHSF1 2", "shHSF2 0", "shHSF2 1", "shHSF2 2"], "paddingInner": 0.6, "paddingOuter": 0.3}}, "y": {"field": "level", "type": "quantitative", "title": ["Relative", "mRNA expression"]}}},
                   {"mark": {"type": "text", "fontSize": 18, "baseline": "alphabetic", "dy": 6}, "encoding": {"x": {"field": "mid", "type": "nominal", "title": "h at 42ºC", "bandPosition": 0, "scale": {"type": "band", "domain": ["Scr 0", "Scr 1", "Scr 2", "shHSF1 0", "shHSF1 1", "shHSF1 2", "shHSF2 0", "shHSF2 1", "shHSF2 2"], "paddingInner": 0.6, "paddingOuter": 0.3}}, "y": {"field": "level", "type": "quantitative", "title": ["Relative", "mRNA expression"]}, "text": {"field": "stars"}}}
                 ]}
              ]
            }
          ]
        }
      ]
    }
  ],
  "config": {
    "font": "Liberation Sans",
    "view": {"stroke": null},
    "title": {"font": "Liberation Sans", "fontWeight": "normal", "color": "#111"},
    "text": {"font": "Liberation Sans", "color": "#111"},
    "axis": {"labelFont": "Liberation Sans", "titleFont": "Liberation Sans", "labelColor": "#111", "titleColor": "#111", "domainColor": "#8c8c8c", "tickColor": "#8c8c8c", "grid": false, "titleFontWeight": "normal", "labelFontSize": 14.5, "titleFontSize": 15.5},
    "axisY": {"tickSize": 4, "labelPadding": 8, "titleLineHeight": 19.5, "labelOverlap": false}
  }
}
